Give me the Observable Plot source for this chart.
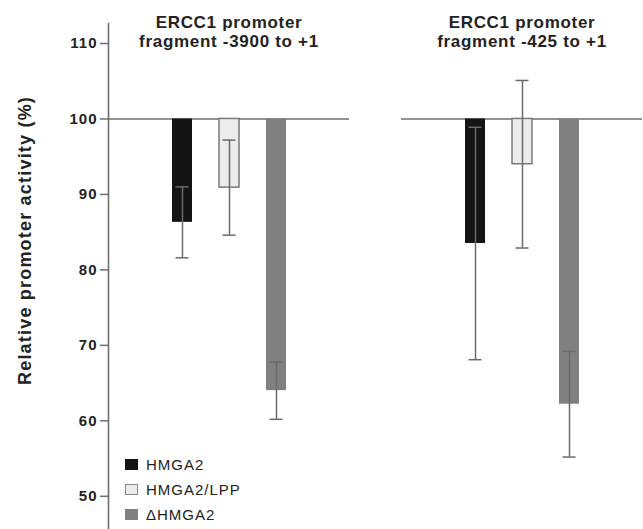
<!DOCTYPE html>
<html><head><meta charset="utf-8">
<script src="https://cdn.jsdelivr.net/npm/d3@7"></script>
<script src="https://cdn.jsdelivr.net/npm/@observablehq/plot@0.6"></script>
<style>
body{margin:0;background:#fff;}
#chart{position:relative;width:643px;height:529px;}
g[aria-label="y-axis tick label"] text{letter-spacing:1px;}
.legend{position:absolute;left:125px;top:452px;font:15px "Liberation Sans",Arial,sans-serif;color:#222;letter-spacing:1px;}
.legend .row{display:flex;align-items:center;height:25px;}
.legend .sw{display:inline-block;width:13px;height:11px;margin-right:8px;box-sizing:border-box;}
</style></head><body><div id="chart"></div>
<script>
const fragments = ["ERCC1 promoter\nfragment -3900 to +1", "ERCC1 promoter\nfragment -425 to +1"];
const constructs = ["HMGA2", "HMGA2/LPP", "ΔHMGA2"];
const activity3900 = [86.3, 90.9, 64.0];
const error3900 = [4.7, 6.3, 3.8];
const activity425 = [83.5, 94.0, 62.2];
const error425 = [15.4, 11.1, 7.0];
const yTicks = [50, 60, 70, 80, 90, 100, 110];
const yLabel = "Relative promoter activity (%)";
const baseline = 100;
const fills = ["#141414", "#ececec", "#808080"];

const values = [activity3900, activity425];
const errors = [error3900, error425];
const rows = fragments.flatMap((f, i) => constructs.map((c, j) => ({
  fragment: f, construct: c, value: values[i][j],
  lo: values[i][j] - errors[i][j], hi: values[i][j] + errors[i][j]
})));

const plot = Plot.plot({
  width: 643, height: 529,
  marginLeft: 108, marginRight: 0, marginTop: 23, marginBottom: 0,
  style: {fontFamily: "'Liberation Sans', Arial, sans-serif", color: "#222", background: "#fff"},
  fx: {domain: fragments, paddingInner: 0.177, paddingOuter: 0, axis: null},
  x: {domain: constructs, paddingInner: 0.579, paddingOuter: 1.33, axis: null},
  y: {domain: [45.6, 112.65], axis: null},
  color: {domain: constructs, range: fills},
  marks: [
    Plot.frame({anchor: "left", facetAnchor: "left", stroke: "#6e6e6e", strokeWidth: 1.6}),
    Plot.axisY({ticks: yTicks, tickSize: 8, tickPadding: 3, fontSize: 15, fontWeight: "bold", label: null, stroke: "#6e6e6e", strokeWidth: 1.5}),
    Plot.ruleY([baseline], {stroke: "#6e6e6e", strokeWidth: 1.6}),
    Plot.barY(rows, {fx: "fragment", x: "construct", y1: baseline, y2: "value", fill: "construct"}),
    Plot.barY(rows.filter(d => d.construct === constructs[1]), {fx: "fragment", x: "construct", y1: baseline, y2: "value", fill: "none", stroke: "#7a7a7a", strokeWidth: 1.5}),
    Plot.ruleX(rows, {fx: "fragment", x: "construct", y1: "lo", y2: "hi", stroke: "#6a6a6a", strokeWidth: 1.5}),
    Plot.tickY(rows, {fx: "fragment", x: "construct", y: "lo", insetLeft: 3.5, insetRight: 3.5, stroke: "#6a6a6a", strokeWidth: 1.5}),
    Plot.tickY(rows, {fx: "fragment", x: "construct", y: "hi", insetLeft: 3.5, insetRight: 3.5, stroke: "#6a6a6a", strokeWidth: 1.5}),
    Plot.text(fragments, {fx: d => d, text: d => d, frameAnchor: "top", lineAnchor: "top", dy: -9, fontWeight: "bold", fontSize: 17, lineHeight: 1.12, fill: "#222"}),
    Plot.text([yLabel], {fx: () => fragments[0], text: d => d, frameAnchor: "left", textAnchor: "middle", rotate: -90, dx: -83, dy: -36, fontWeight: "bold", fontSize: 18, fill: "#222"})
  ]
});
document.getElementById("chart").appendChild(plot);

// letter spacing to match the wide typeface of the original
d3.select(plot).selectAll("text").each(function() {
  const t = this.textContent;
  if (t === yLabel) d3.select(this).style("letter-spacing", "1.2px");
  else if (t.startsWith("ERCC1")) d3.select(this).style("letter-spacing", "0.7px");
});

const legend = d3.select("#chart").append("div").attr("class", "legend");
constructs.forEach((c, i) => {
  const row = legend.append("div").attr("class", "row");
  row.append("span").attr("class", "sw")
    .style("background", fills[i])
    .style("border", i === 1 ? "1.5px solid #8a8a8a" : "none");
  row.append("span").text(c);
});
</script>
</body></html>
